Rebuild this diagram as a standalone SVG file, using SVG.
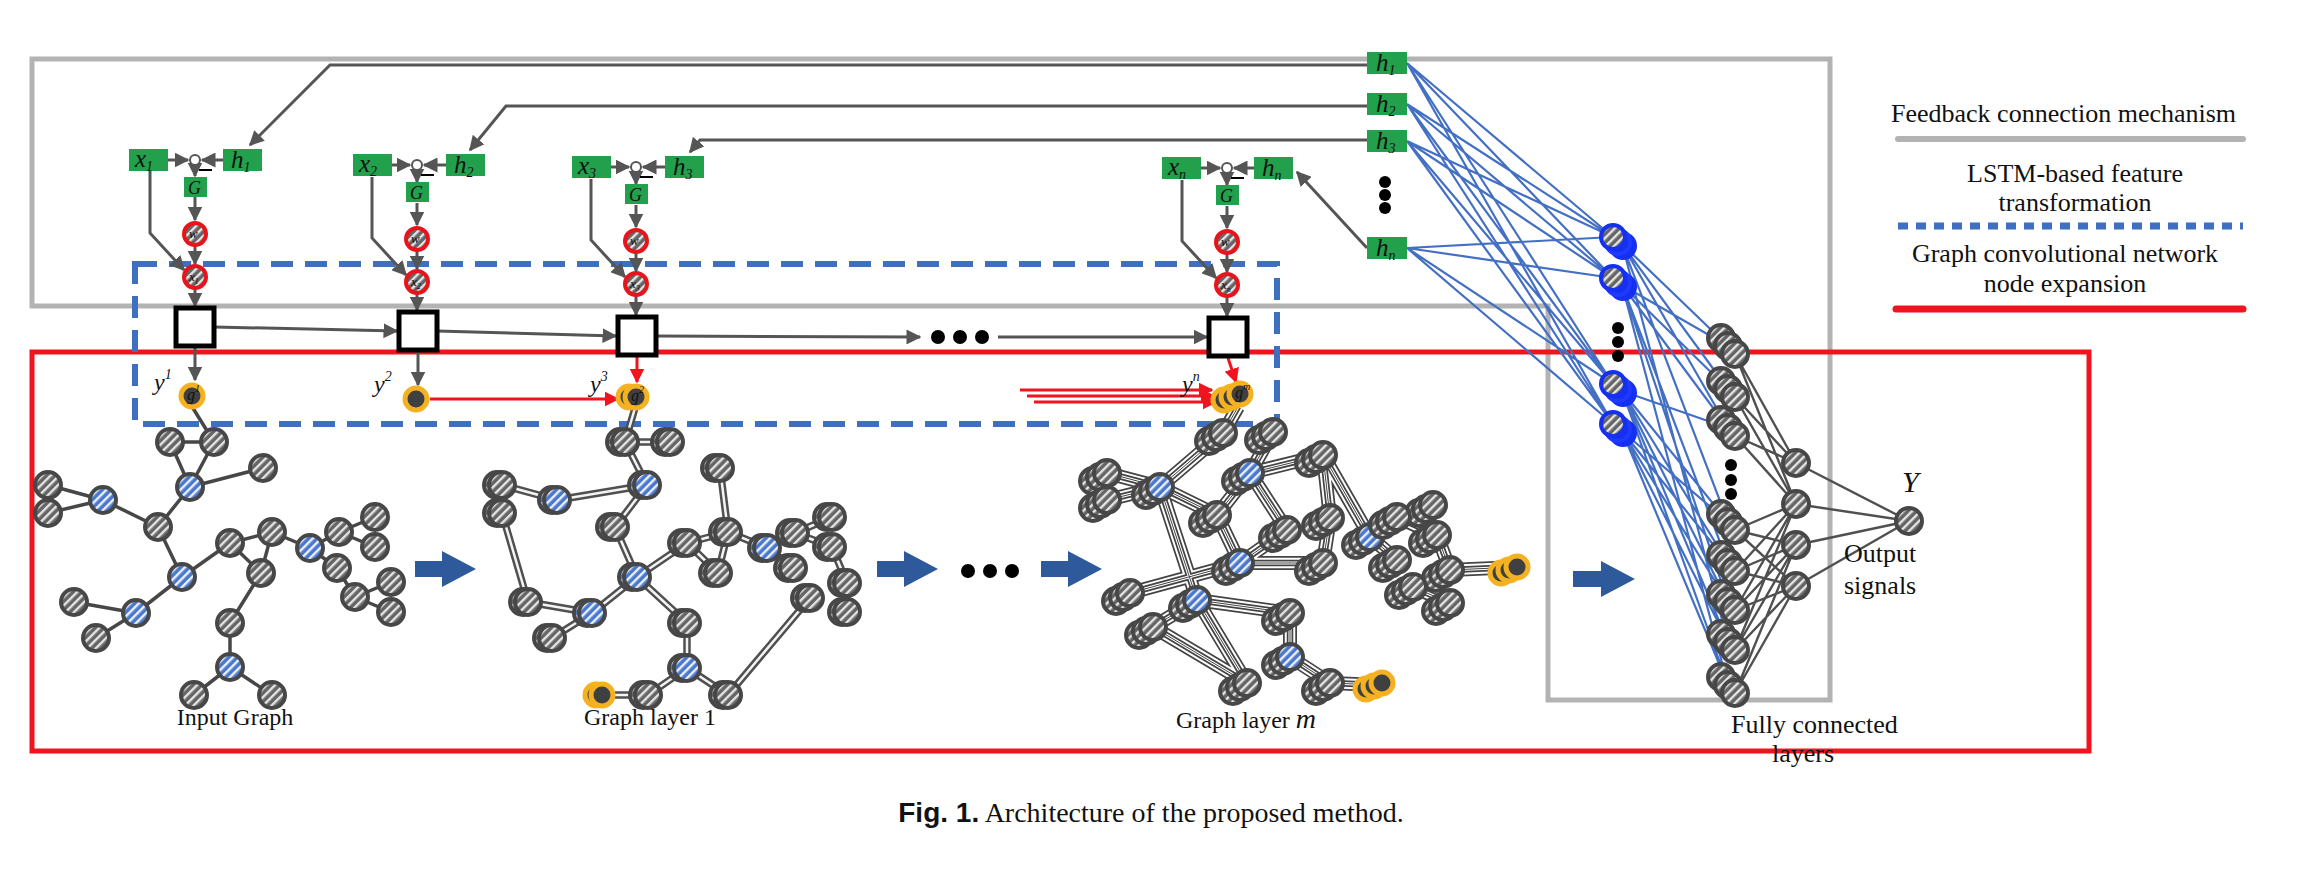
<svg xmlns="http://www.w3.org/2000/svg" xmlns:xlink="http://www.w3.org/1999/xlink" width="2298" height="874" viewBox="0 0 2298 874">
<style>
.t{font-family:"Liberation Serif",serif;fill:#111}
.it{font-style:italic}
.gl{font-family:"Liberation Serif",serif;font-style:italic;font-size:25px;fill:#111}
.gb{fill:#22a04b}
.ln{fill:none;stroke:#555;stroke-width:3}
.rd{fill:none;stroke:#f0141e;stroke-width:3}
.bl{stroke:#4470c4;stroke-width:2.2;fill:none}
.gy{stroke:#505050;stroke-width:2.4;fill:none}
.cell{fill:#fff;stroke:#000;stroke-width:5}
.blk{fill:#2e5a9c}
</style>
<defs>
<pattern id="ht" width="6" height="6" patternUnits="userSpaceOnUse" patternTransform="rotate(45)"><rect width="6" height="6" fill="#656565"/><rect width="2.4" height="6" fill="#e6e6e6"/></pattern>
<pattern id="hb" width="6" height="6" patternUnits="userSpaceOnUse" patternTransform="rotate(45)"><rect width="6" height="6" fill="#4a78cc"/><rect width="2.4" height="6" fill="#eef2ff"/></pattern>
<marker id="ag" viewBox="0 0 10 10" refX="9" refY="5" markerWidth="5" markerHeight="5" orient="auto"><path d="M0,0 L10,5 L0,10 z" fill="#555"/></marker>
<marker id="ar" viewBox="0 0 10 10" refX="9" refY="5" markerWidth="5" markerHeight="5" orient="auto"><path d="M0,0 L10,5 L0,10 z" fill="#f0141e"/></marker>
<g id="gn"><circle r="13" fill="url(#ht)" stroke="#474747" stroke-width="4"/></g>
<g id="bn"><circle r="13" fill="url(#hb)" stroke="#474747" stroke-width="4"/></g>
<g id="gn2"><use href="#gn" x="-5"/><use href="#gn"/></g>
<g id="bn2"><use href="#bn" x="-5"/><use href="#bn"/></g>
<g id="gs"><use href="#gn" x="-14" y="8"/><use href="#gn" x="-7" y="4"/><use href="#gn"/></g>
<g id="bs"><use href="#gn" x="-14" y="8"/><use href="#gn" x="-7" y="4"/><use href="#bn"/></g>
<g id="on"><circle r="11" fill="#404040" stroke="#f4b223" stroke-width="5"/></g>
<g id="os"><use href="#on" x="-16" y="6"/><use href="#on" x="-8" y="3"/><use href="#on"/></g>
<g id="fb"><circle cx="10" cy="9" r="12" fill="#1530f0" stroke="#1530f0" stroke-width="4"/><circle cx="5" cy="5" r="12" fill="#1530f0" stroke="#2038ff" stroke-width="4"/><circle r="12" fill="url(#ht)" stroke="#1530f0" stroke-width="4"/></g>
<g id="fg"><use href="#gn" x="-14" y="-16"/><use href="#gn" x="-7" y="-8"/><use href="#gn"/></g>
<g id="rr"><circle r="11" fill="url(#ht)" stroke="#e8141c" stroke-width="4"/></g>
<path id="e0" d="M170,442 L214,442 M170,442 L190,487 M214,442 L190,487 M190,487 L263,468 M190,487 L158,527 M103,500 L48,485 M103,500 L48,513 M103,500 L158,527 M158,527 L182,577 M182,577 L230,543 M182,577 L136,613 M136,613 L74,602 M136,613 L96,638 M230,543 L272,532 M272,532 L261,573 M230,543 L261,573 M272,532 L310,548 M310,548 L339,532 M339,532 L375,517 M339,532 L375,547 M310,548 L337,568 M337,568 L355,597 M355,597 L391,582 M355,597 L391,612 M261,573 L230,623 M230,623 L230,667 M230,667 L194,695 M230,667 L272,695 M191,405 L214,442"/>
<path id="e1" d="M625,442 L670,442 M625,442 L647,485 M647,485 L557,500 M557,500 L502,485 M502,513 L528,602 M647,485 L615,527 M615,527 L637,577 M637,577 L687,543 M687,543 L728,532 M728,532 L720,468 M687,543 L718,573 M728,532 L718,573 M728,532 L767,548 M767,548 L795,533 M795,533 L832,517 M795,533 L832,547 M767,548 L793,568 M832,547 L847,583 M847,583 L847,612 M637,577 L592,613 M592,613 L528,602 M592,613 L552,638 M637,577 L687,623 M687,623 L687,668 M687,668 L648,695 M687,668 L728,695 M728,695 L810,598 M648,695 L602,695 M635,408 L625,442"/>
<path id="em" d="M1223,433 L1160,487 M1273,432 L1250,473 M1107,473 L1160,487 M1107,500 L1160,487 M1160,487 L1217,515 M1160,487 L1197,600 M1250,473 L1323,455 M1250,473 L1287,530 M1250,473 L1217,515 M1323,455 L1330,518 M1323,455 L1370,537 M1217,515 L1240,563 M1287,530 L1240,563 M1330,518 L1323,563 M1370,537 L1397,517 M1370,537 L1397,560 M1397,517 L1433,505 M1397,517 L1437,535 M1437,535 L1450,570 M1450,570 L1413,587 M1413,587 L1450,603 M1450,570 L1517,567 M1240,563 L1130,593 M1240,563 L1323,563 M1197,600 L1290,613 M1197,600 L1247,683 M1153,627 L1247,683 M1197,600 L1153,627 M1290,613 L1290,657 M1290,657 L1330,683 M1330,683 L1380,685 M1238,407 L1223,433"/>
</defs>

<g id="frames">
<path d="M32,59 H1830 V700 H1548 V306 H32 Z" fill="none" stroke="#b3b3b3" stroke-width="5"/>
<rect x="32" y="352" width="2057" height="399" fill="none" stroke="#f0141e" stroke-width="5"/>
<rect x="135" y="264" width="1142" height="160" fill="none" stroke="#3f6fc0" stroke-width="6" stroke-dasharray="22 12"/>
</g>

<g id="connectors">
<path class="ln" marker-end="url(#ag)" d="M1367,65 H330 L250,145"/>
<path class="ln" marker-end="url(#ag)" d="M1367,106 H506 L470,150"/>
<path class="ln" marker-end="url(#ag)" d="M1367,140 H700 L690,152"/>
<path class="ln" marker-end="url(#ag)" d="M1367,248 L1297,172"/>
<g class="ln" marker-end="url(#ag)">
<path d="M168,160 L188,160"/><path d="M223,160 L202,160"/><path d="M195,166 V176"/><path d="M195,197 V220"/><path d="M195,246 V264"/><path d="M195,289 V306"/><path d="M150,171 V233 L184,270"/>
<path d="M391,165 L410,165"/><path d="M446,165 L424,165"/><path d="M417,171 V182"/><path d="M417,203 V225"/><path d="M417,251 V269"/><path d="M417,294 V310"/><path d="M372,177 V238 L406,275"/>
<path d="M610,167 L629,167"/><path d="M665,167 L643,167"/><path d="M636,173 V184"/><path d="M636,205 V227"/><path d="M636,253 V271"/><path d="M636,296 V315"/><path d="M591,179 V240 L625,277"/>
<path d="M1201,168 L1220,168"/><path d="M1254,168 L1234,168"/><path d="M1227,174 V185"/><path d="M1227,206 V228"/><path d="M1227,254 V272"/><path d="M1227,297 V316"/><path d="M1182,180 V241 L1216,278"/>
<path d="M214,327 L397,331"/><path d="M437,331 L616,336"/><path d="M656,336 L920,337"/><path d="M998,337 L1207,337"/>
<path d="M195,348 V380"/><path d="M418,352 V385"/>
</g>
<g class="rd" marker-end="url(#ar)">
<path d="M637,357 V382"/><path d="M1228,358 L1236,382"/>
<path d="M430,399 H618"/>
<path d="M1020,390 H1212"/><path d="M1027,396 H1214"/><path d="M1034,402 H1216"/>
</g>
<g stroke="#000" stroke-width="2"><path d="M199,170 H212"/><path d="M421,175 H434"/><path d="M640,177 H653"/><path d="M1231,178 H1244"/></g>
<use href="#e0" fill="none" stroke="#474747" stroke-width="3.5"/>
<use href="#e1" fill="none" stroke="#505050" stroke-width="7.5"/>
<use href="#e1" fill="none" stroke="#f4f4f4" stroke-width="2.5"/>
<use href="#em" fill="none" stroke="#444" stroke-width="14"/>
<use href="#em" fill="none" stroke="#fff" stroke-width="10.5"/>
<use href="#em" fill="none" stroke="#444" stroke-width="6.5"/>
<use href="#em" fill="none" stroke="#fff" stroke-width="3"/>
<use href="#em" fill="none" stroke="#444" stroke-width="1"/>
<g class="bl">
<path d="M1407,63 L1613,237 M1407,63 L1613,278 M1407,63 L1613,384 M1407,63 L1613,424 M1407,104 L1613,237 M1407,104 L1613,278 M1407,104 L1613,384 M1407,104 L1613,424 M1407,141 L1613,237 M1407,141 L1613,278 M1407,141 L1613,384 M1407,141 L1613,424 M1407,248 L1613,237 M1407,248 L1613,278 M1407,248 L1613,384 M1407,248 L1613,424"/>
<path d="M1622,244 L1728,346 M1622,244 L1728,389 M1622,244 L1728,428 M1622,244 L1728,522 M1622,285 L1728,346 M1622,285 L1728,389 M1622,285 L1728,428 M1622,285 L1728,563 M1622,285 L1728,602 M1622,391 L1728,428 M1622,391 L1728,522 M1622,391 L1728,563 M1622,391 L1728,602 M1622,391 L1728,642 M1622,391 L1728,685 M1622,431 L1728,522 M1622,431 L1728,563 M1622,431 L1728,602 M1622,431 L1728,642 M1622,431 L1728,685 M1622,244 L1728,642 M1622,285 L1728,685"/>
</g>
<g class="gy">
<path d="M1735,354 L1796,463 M1735,397 L1796,463 M1735,436 L1796,463 M1735,354 L1796,504 M1735,397 L1796,504 M1735,436 L1796,504 M1735,530 L1796,504 M1735,530 L1796,545 M1735,530 L1796,586 M1735,571 L1796,504 M1735,571 L1796,545 M1735,571 L1796,586 M1735,610 L1796,545 M1735,610 L1796,586 M1735,650 L1796,545 M1735,650 L1796,586 M1735,693 L1796,545 M1735,693 L1796,586 M1735,610 L1796,504 M1735,650 L1796,504"/>
<path d="M1796,463 L1909,521 M1796,504 L1909,521 M1796,545 L1909,521 M1796,586 L1909,521"/>
</g>
</g>

<g id="feedback-h">
<g id="h1"><rect class="gb" x="1367" y="52" width="40" height="22"/><text class="gl" x="1376" y="71">h<tspan font-size="14" dy="4">1</tspan></text></g>
<g id="h2"><rect class="gb" x="1367" y="93" width="40" height="22"/><text class="gl" x="1376" y="112">h<tspan font-size="14" dy="4">2</tspan></text></g>
<g id="h3"><rect class="gb" x="1367" y="130" width="40" height="22"/><text class="gl" x="1376" y="149">h<tspan font-size="14" dy="4">3</tspan></text></g>
<g id="hn"><rect class="gb" x="1367" y="237" width="40" height="22"/><text class="gl" x="1376" y="256">h<tspan font-size="14" dy="4">n</tspan></text></g>
<g id="hdots" fill="#000"><circle cx="1385" cy="182" r="6"/><circle cx="1385" cy="195" r="6"/><circle cx="1385" cy="208" r="6"/></g>
</g>

<g id="col1">
<rect class="gb" x="129" y="149" width="39" height="22"/><text class="gl" x="135" y="167">x<tspan font-size="14" dy="4">1</tspan></text>
<circle cx="195" cy="160" r="5" fill="#fff" stroke="#555" stroke-width="2"/>
<rect class="gb" x="223" y="149" width="39" height="22"/><text class="gl" x="231" y="168">h<tspan font-size="14" dy="4">1</tspan></text>
<rect class="gb" x="184" y="177" width="23" height="20"/><text class="t it" x="188" y="194" font-size="18">G</text>
<use href="#rr" x="195" y="234"/><text class="t it" x="189" y="238" font-size="13">w</text>
<use href="#rr" x="195" y="277"/><text class="t it" x="189" y="281" font-size="13">x<tspan font-size="8" dy="3">1</tspan></text>
<rect class="cell" x="176" y="308" width="38" height="38"/>
</g>
<g id="col2">
<rect class="gb" x="353" y="154" width="39" height="22"/><text class="gl" x="359" y="172">x<tspan font-size="14" dy="4">2</tspan></text>
<circle cx="417" cy="165" r="5" fill="#fff" stroke="#555" stroke-width="2"/>
<rect class="gb" x="446" y="154" width="39" height="22"/><text class="gl" x="454" y="173">h<tspan font-size="14" dy="4">2</tspan></text>
<rect class="gb" x="406" y="182" width="23" height="20"/><text class="t it" x="410" y="199" font-size="18">G</text>
<use href="#rr" x="417" y="239"/><text class="t it" x="411" y="243" font-size="13">w</text>
<use href="#rr" x="417" y="282"/><text class="t it" x="411" y="286" font-size="13">x<tspan font-size="8" dy="3">2</tspan></text>
<rect class="cell" x="399" y="312" width="38" height="38"/>
</g>
<g id="col3">
<rect class="gb" x="572" y="156" width="39" height="22"/><text class="gl" x="578" y="174">x<tspan font-size="14" dy="4">3</tspan></text>
<circle cx="636" cy="167" r="5" fill="#fff" stroke="#555" stroke-width="2"/>
<rect class="gb" x="665" y="156" width="39" height="22"/><text class="gl" x="673" y="175">h<tspan font-size="14" dy="4">3</tspan></text>
<rect class="gb" x="625" y="184" width="23" height="20"/><text class="t it" x="629" y="201" font-size="18">G</text>
<use href="#rr" x="636" y="241"/><text class="t it" x="630" y="245" font-size="13">w</text>
<use href="#rr" x="636" y="284"/><text class="t it" x="630" y="288" font-size="13">x<tspan font-size="8" dy="3">3</tspan></text>
<rect class="cell" x="618" y="317" width="38" height="38"/>
</g>
<g id="coln">
<rect class="gb" x="1162" y="157" width="39" height="22"/><text class="gl" x="1168" y="175">x<tspan font-size="14" dy="4">n</tspan></text>
<circle cx="1227" cy="168" r="5" fill="#fff" stroke="#555" stroke-width="2"/>
<rect class="gb" x="1254" y="157" width="39" height="22"/><text class="gl" x="1262" y="176">h<tspan font-size="14" dy="4">n</tspan></text>
<rect class="gb" x="1216" y="185" width="23" height="20"/><text class="t it" x="1220" y="202" font-size="18">G</text>
<use href="#rr" x="1227" y="242"/><text class="t it" x="1221" y="246" font-size="13">w</text>
<use href="#rr" x="1227" y="285"/><text class="t it" x="1221" y="289" font-size="13">x<tspan font-size="8" dy="3">n</tspan></text>
<rect class="cell" x="1209" y="318" width="38" height="38"/>
</g>
<g id="seqdots" fill="#000"><circle cx="938" cy="337" r="7"/><circle cx="960" cy="337" r="7"/><circle cx="982" cy="337" r="7"/></g>

<g id="outputs">
<text class="t it" x="154" y="390" font-size="24">y<tspan font-size="14" dy="-11">1</tspan></text>
<text class="t it" x="374" y="392" font-size="24">y<tspan font-size="14" dy="-11">2</tspan></text>
<text class="t it" x="590" y="392" font-size="24">y<tspan font-size="14" dy="-11">3</tspan></text>
<text class="t it" x="1182" y="392" font-size="24">y<tspan font-size="14" dy="-11">n</tspan></text>
<g id="g1"><use href="#on" x="192" y="396"/><text class="t it" x="187" y="400" font-size="16">g<tspan font-size="10" dy="-8">1</tspan></text></g>
<g id="g2"><use href="#on" x="416" y="399"/></g>
<g id="g3"><use href="#on" x="629" y="397"/><use href="#on" x="636" y="397"/><text class="t it" x="631" y="401" font-size="16">g<tspan font-size="10" dy="-8">2</tspan></text></g>
<g id="gm"><use href="#os" x="1240" y="394"/><text class="t it" x="1235" y="398" font-size="16">g<tspan font-size="10" dy="-8">m</tspan></text></g>
</g>

<g id="input-graph">
<use href="#gn" x="170" y="442"/><use href="#gn" x="214" y="442"/><use href="#bn" x="190" y="487"/><use href="#gn" x="263" y="468"/>
<use href="#gn" x="48" y="485"/><use href="#gn" x="48" y="513"/><use href="#bn" x="103" y="500"/><use href="#gn" x="158" y="527"/>
<use href="#bn" x="182" y="577"/><use href="#gn" x="74" y="602"/><use href="#bn" x="136" y="613"/><use href="#gn" x="96" y="638"/>
<use href="#gn" x="230" y="543"/><use href="#gn" x="272" y="532"/><use href="#gn" x="261" y="573"/><use href="#bn" x="310" y="548"/>
<use href="#gn" x="339" y="532"/><use href="#gn" x="375" y="517"/><use href="#gn" x="375" y="547"/><use href="#gn" x="337" y="568"/>
<use href="#gn" x="355" y="597"/><use href="#gn" x="391" y="582"/><use href="#gn" x="391" y="612"/><use href="#gn" x="230" y="623"/>
<use href="#bn" x="230" y="667"/><use href="#gn" x="194" y="695"/><use href="#gn" x="272" y="695"/>
<text class="t" x="235" y="725" font-size="24" text-anchor="middle">Input Graph</text>
</g>

<g id="graph-layer-1">
<use href="#gn2" x="625" y="442"/><use href="#gn2" x="670" y="442"/><use href="#bn2" x="647" y="485"/><use href="#gn2" x="502" y="485"/>
<use href="#bn2" x="557" y="500"/><use href="#gn2" x="502" y="513"/><use href="#gn2" x="615" y="527"/><use href="#bn2" x="637" y="577"/>
<use href="#gn2" x="720" y="468"/><use href="#gn2" x="728" y="532"/><use href="#gn2" x="687" y="543"/><use href="#gn2" x="718" y="573"/>
<use href="#bn2" x="767" y="548"/><use href="#gn2" x="795" y="533"/><use href="#gn2" x="832" y="517"/><use href="#gn2" x="832" y="547"/>
<use href="#gn2" x="793" y="568"/><use href="#gn2" x="847" y="583"/><use href="#gn2" x="847" y="612"/><use href="#gn2" x="528" y="602"/>
<use href="#bn2" x="592" y="613"/><use href="#gn2" x="552" y="638"/><use href="#gn2" x="687" y="623"/><use href="#bn2" x="687" y="668"/>
<use href="#gn2" x="648" y="695"/><use href="#gn2" x="728" y="695"/><use href="#gn2" x="810" y="598"/>
<use href="#on" x="596" y="695"/><use href="#on" x="602" y="695"/>
<text class="t" x="650" y="725" font-size="24" text-anchor="middle">Graph layer 1</text>
</g>

<g id="graph-layer-m">
<use href="#gs" x="1223" y="433"/><use href="#gs" x="1273" y="432"/><use href="#gs" x="1107" y="473"/><use href="#bs" x="1160" y="487"/>
<use href="#gs" x="1107" y="500"/><use href="#bs" x="1250" y="473"/><use href="#gs" x="1323" y="455"/><use href="#gs" x="1217" y="515"/>
<use href="#gs" x="1287" y="530"/><use href="#gs" x="1330" y="518"/><use href="#bs" x="1370" y="537"/><use href="#gs" x="1433" y="505"/>
<use href="#gs" x="1397" y="517"/><use href="#gs" x="1437" y="535"/><use href="#gs" x="1397" y="560"/><use href="#gs" x="1450" y="570"/>
<use href="#gs" x="1413" y="587"/><use href="#gs" x="1450" y="603"/><use href="#bs" x="1240" y="563"/><use href="#gs" x="1323" y="563"/>
<use href="#gs" x="1130" y="593"/><use href="#bs" x="1197" y="600"/><use href="#gs" x="1153" y="627"/><use href="#gs" x="1290" y="613"/>
<use href="#bs" x="1290" y="657"/><use href="#gs" x="1247" y="683"/><use href="#gs" x="1330" y="683"/>
<use href="#os" x="1517" y="567"/><use href="#os" x="1382" y="683"/>
<text class="t" x="1246" y="728" font-size="24" text-anchor="middle">Graph layer <tspan class="it" font-size="28">m</tspan></text>
</g>

<g id="flow-arrows">
<polygon class="blk" points="415,561 442,561 442,551 476,569 442,587 442,577 415,577"/>
<polygon class="blk" points="877,561 904,561 904,551 938,569 904,587 904,577 877,577"/>
<g fill="#000"><circle cx="968" cy="571" r="7"/><circle cx="990" cy="571" r="7"/><circle cx="1012" cy="571" r="7"/></g>
<polygon class="blk" points="1041,561 1068,561 1068,551 1102,569 1068,587 1068,577 1041,577"/>
<polygon class="blk" points="1573,571 1601,571 1601,561 1635,579 1601,597 1601,587 1573,587"/>
</g>

<g id="fc-layers">
<use href="#fb" x="1613" y="237"/><use href="#fb" x="1613" y="278"/><use href="#fb" x="1613" y="384"/><use href="#fb" x="1613" y="424"/>
<g fill="#000"><circle cx="1618" cy="328" r="6"/><circle cx="1618" cy="342" r="6"/><circle cx="1618" cy="356" r="6"/></g>
<use href="#fg" x="1735" y="354"/><use href="#fg" x="1735" y="397"/><use href="#fg" x="1735" y="436"/>
<g fill="#000"><circle cx="1731" cy="465" r="6"/><circle cx="1731" cy="480" r="6"/><circle cx="1731" cy="494" r="6"/></g>
<use href="#fg" x="1735" y="530"/><use href="#fg" x="1735" y="571"/><use href="#fg" x="1735" y="610"/><use href="#fg" x="1735" y="650"/><use href="#fg" x="1735" y="693"/>
<use href="#gn" x="1796" y="463"/><use href="#gn" x="1796" y="504"/><use href="#gn" x="1796" y="545"/><use href="#gn" x="1796" y="586"/>
<g id="Y"><use href="#gn" x="1909" y="521"/></g>
<text class="t it" x="1902" y="492" font-size="30">Y</text>
<text class="t" x="1844" y="562" font-size="26">Output</text>
<text class="t" x="1844" y="594" font-size="26">signals</text>
<text class="t" x="1731" y="733" font-size="26">Fully connected</text>
<text class="t" x="1772" y="762" font-size="26">layers</text>
</g>

<g id="legend">
<text class="t" x="1891" y="122" font-size="26">Feedback connection mechanism</text>
<line x1="1898" y1="139" x2="2243" y2="139" stroke="#b3b3b3" stroke-width="6" stroke-linecap="round"/>
<text class="t" x="2075" y="182" font-size="26" text-anchor="middle">LSTM-based feature</text>
<text class="t" x="2075" y="211" font-size="26" text-anchor="middle">transformation</text>
<line x1="1898" y1="226" x2="2243" y2="226" stroke="#3f6fc0" stroke-width="7" stroke-dasharray="10 8"/>
<text class="t" x="2065" y="262" font-size="26" text-anchor="middle">Graph convolutional network</text>
<text class="t" x="2065" y="292" font-size="26" text-anchor="middle">node expansion</text>
<line x1="1896" y1="309" x2="2243" y2="309" stroke="#f0141e" stroke-width="7" stroke-linecap="round"/>
</g>

<text class="t" x="1151" y="822" font-size="28" text-anchor="middle"><tspan font-weight="bold" font-family="Liberation Sans, sans-serif">Fig. 1.</tspan>  Architecture of the proposed method.</text>
</svg>
